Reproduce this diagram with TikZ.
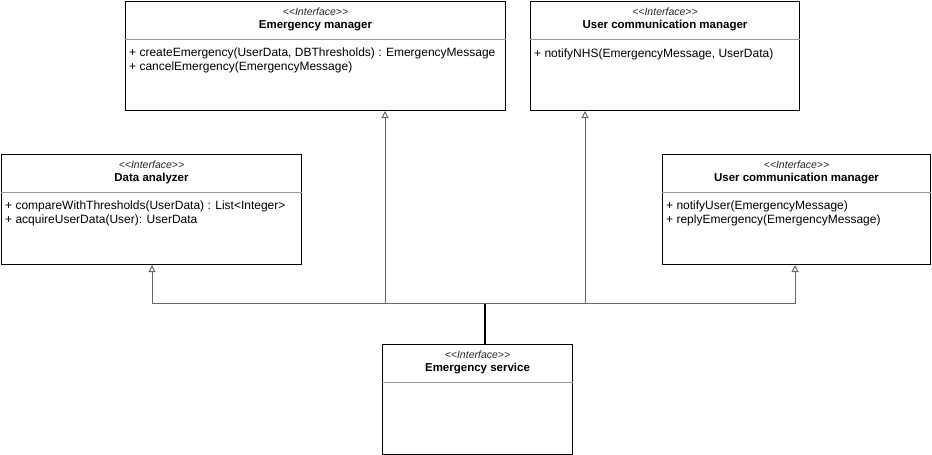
\documentclass[tikz,border=0pt]{standalone}
\usepackage{fontspec}
\setmainfont{Liberation Sans}
\usetikzlibrary{arrows.meta,calc}
\newcommand\umlclass[7]{%
  \node[classbox, minimum width=#4pt, minimum height=#5pt] (#1) at (#2,#3) {};
  \node[stereo] (#1-st) at ($(#1.north)+(0,11)$) {<\kern0pt<Interface>\kern0pt>};
  \node[ctitle] (#1-title) at ($(#1.north)+(0,25)$) {#6};
  \draw[sep] ([yshift=-38pt]#1.north west) -- ([yshift=-38pt]#1.north east);
  \node[ops] (#1-ops) at ($(#1.north west)+(4,46.5)$) {#7};
}
\begin{document}
\begin{tikzpicture}[x=1pt,y=-1pt,
  classbox/.style={draw=black, line width=1pt, anchor=north west, inner sep=0pt, fill=white},
  stereo/.style={font=\fontsize{10.5}{12}\selectfont\itshape, text=black!85, anchor=center, inner sep=0pt},
  ctitle/.style={font=\fontsize{11.5}{13}\selectfont\bfseries, anchor=center, inner sep=0pt},
  ops/.style={font=\fontsize{12}{14}\selectfont, anchor=north west, align=left, inner sep=0pt,
    execute at begin node={\rule{0pt}{10pt}}},
  sep/.style={draw=black!40, line width=0.8pt},
  conn/.style={draw=black!60, line width=1pt},
  realize/.style={conn, -{Triangle[open,width=7pt,length=7pt]}},
  trunk/.style={draw=black, line width=2pt},
]
\useasboundingbox (0,0) rectangle (932,455);

\umlclass{em}{125}{1}{380}{109}{Emergency manager}{+ createEmergency(UserData, DBThresholds) : EmergencyMessage\\+ cancelEmergency(EmergencyMessage)}
\umlclass{ucma}{530}{1}{269}{109}{User communication manager}{+ notifyNHS(EmergencyMessage, UserData)}
\umlclass{da}{1}{154}{300}{110}{Data analyzer}{+ compareWithThresholds(UserData) : List<Integer>\\+ acquireUserData(User): UserData}
\umlclass{ucmb}{662}{154}{268}{110}{User communication manager}{+ notifyUser(EmergencyMessage)\\+ replyEmergency(EmergencyMessage)}
\umlclass{es}{382}{344}{190}{110}{Emergency service}{}

\coordinate (j) at (485,303.5);
\coordinate (b1) at (152,303.5);
\coordinate (b2) at (385,303.5);
\coordinate (b3) at (585,303.5);
\coordinate (b4) at (795,303.5);

\draw[conn] (b1) -- (b4);
\draw[realize] (b1) -- (b1 |- da.south);
\draw[realize] (b2) -- (b2 |- em.south);
\draw[realize] (b3) -- (b3 |- ucma.south);
\draw[realize] (b4) -- (b4 |- ucmb.south);
\draw[trunk] (j |- es.north) -- (j);
\end{tikzpicture}
\end{document}
